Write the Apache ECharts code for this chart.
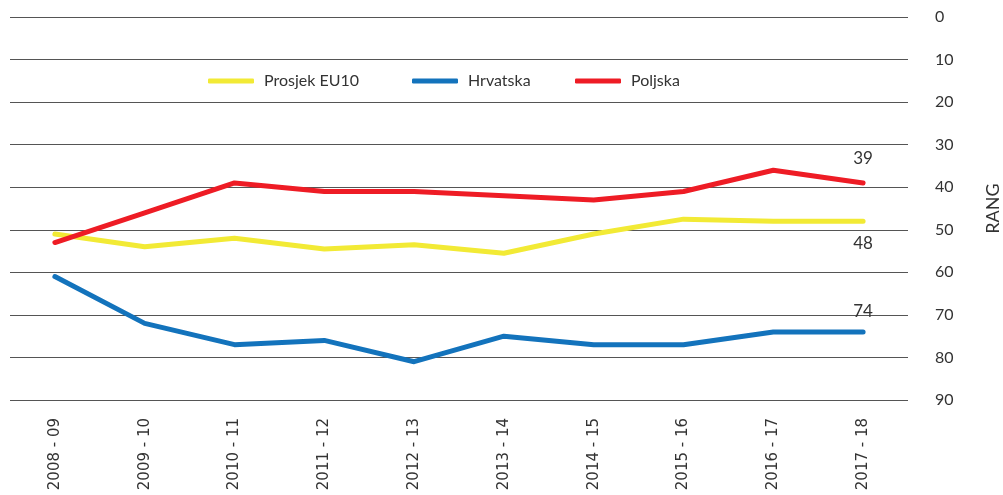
<!DOCTYPE html>
<html>
<head>
<meta charset="utf-8">
<script src="https://cdn.jsdelivr.net/npm/echarts@6/dist/echarts.min.js"></script>
<style>html,body{margin:0;padding:0;background:#fff;overflow:hidden;}#c{width:1003px;height:495px;}</style>
</head>
<body>
<div id="c"></div>
<script>
var categories = ['2008 - 09','2009 - 10','2010 - 11','2011 - 12','2012 - 13','2013 - 14','2014 - 15','2015 - 16','2016 - 17','2017 - 18'];
var prosjekEU10 = [51, 54, 52, 54.5, 53.5, 55.5, 51, 47.5, 48, 48];
var hrvatska = [61, 72, 77, 76, 81, 75, 77, 77, 74, 74];
var poljska = [53, 46, 39, 41, 41, 42, 43, 41, 36, 39];
var yTicks = [0,10,20,30,40,50,60,70,80,90];
var seriesNames = ['Prosjek EU10', 'Hrvatska', 'Poljska'];

var FONT = 'Lato, "Noto Sans", sans-serif';
function lastLabel(pos, dist) {
  return {
    show: true,
    position: pos,
    distance: dist,
    offset: [-11, 0],
    color: '#333',
    fontSize: 17,
    fontFamily: FONT,
    formatter: function (p) { return p.dataIndex === categories.length - 1 ? String(Math.round(p.value)) : ''; }
  };
}
function lineSeries(name, data, pos, dist, z) {
  return {
    name: name, type: 'line', data: data,
    symbol: 'circle', symbolSize: 0.1, showSymbol: true,
    lineStyle: { width: 5, cap: 'round', join: 'round' },
    label: lastLabel(pos, dist),
    labelLayout: { hideOverlap: false },
    z: z
  };
}
function legendFor(name, left) {
  return {
    top: 68,
    left: left,
    itemWidth: 46,
    itemHeight: 5,
    icon: 'roundRect',
    textStyle: { color: '#333', fontSize: 16, fontFamily: FONT, padding: [0, 0, 0, 5] },
    data: [name]
  };
}
var chart = echarts.init(document.getElementById('c'));
chart.setOption({
  animation: false,
  color: ['#f2ea35', '#1373bc', '#ee1c25'],
  legend: [
    legendFor(seriesNames[0], 203),
    legendFor(seriesNames[1], 407),
    legendFor(seriesNames[2], 570)
  ],
  grid: { left: 10, right: 95, top: 17, bottom: 95, containLabel: false, outerBoundsMode: 'none' },
  xAxis: {
    type: 'category',
    data: categories,
    boundaryGap: true,
    axisLine: { show: false },
    axisTick: { show: false },
    axisLabel: { rotate: 90, margin: 18, color: '#333', fontSize: 15, fontFamily: '"DejaVu Sans", sans-serif', interval: 0 }
  },
  yAxis: {
    type: 'value',
    position: 'right',
    inverse: true,
    min: 0,
    max: 90,
    interval: 10,
    name: 'RANG',
    nameLocation: 'middle',
    nameRotate: 90,
    nameGap: 76,
    nameTextStyle: { color: '#333', fontSize: 18, fontFamily: FONT },
    axisLine: { show: false },
    axisTick: { show: false },
    axisLabel: { align: 'left', margin: 27, color: '#333', fontSize: 16, fontFamily: FONT,
      formatter: function (v) { return yTicks.indexOf(v) >= 0 ? String(v) : ''; } },
    splitLine: { lineStyle: { color: '#555', width: 1 } }
  },
  series: [
    lineSeries(seriesNames[0], prosjekEU10, 'bottom', 14, 2),
    lineSeries(seriesNames[1], hrvatska, 'top', 12, 3),
    lineSeries(seriesNames[2], poljska, 'top', 16, 4)
  ]
});
</script>
</body>
</html>
